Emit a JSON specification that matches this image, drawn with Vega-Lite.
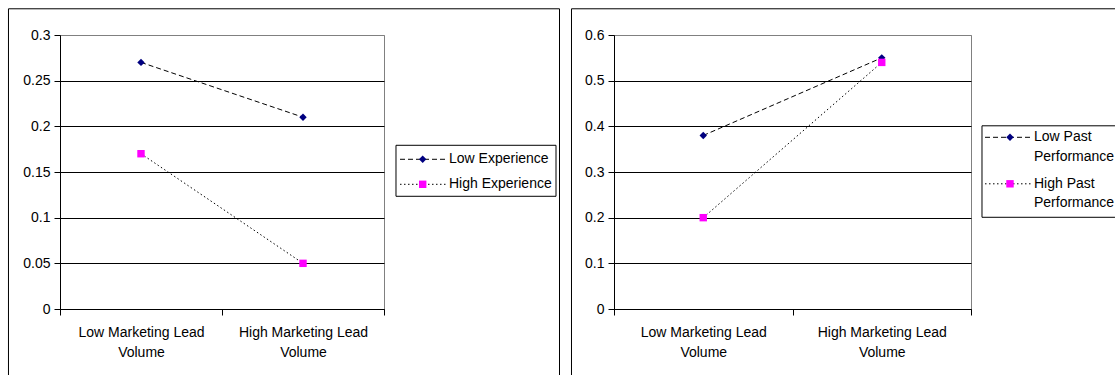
{
  "$schema": "https://vega.github.io/schema/vega-lite/v6.json",
  "background": "white",
  "padding": {"left": 7, "top": 7, "right": 0, "bottom": 0},
  "bounds": "flush",
  "spacing": 230,
  "config": {
    "view": {"stroke": "#808080", "strokeWidth": 1, "fill": "white"},
    "font": "Liberation Sans",
    "text": {"font": "Liberation Sans"},
    "axisX": {
      "title": null, "labelFontSize": 14, "labelFont": "Liberation Sans", "labelColor": "black",
      "labelExpr": "indexof(datum.label, 'Volume') >= 0 ? [replace(datum.label, ' Volume', ''), 'Volume'] : ''",
      "labelLineHeight": 20, "tickBand": "extent", "tickSize": 6, "tickColor": "black",
      "domainColor": "black", "labelPadding": 10, "grid": false, "labelAngle": 0
    },
    "axisY": {
      "title": null, "labelFontSize": 14, "labelFont": "Liberation Sans", "labelColor": "black",
      "format": "~g", "tickSize": 6, "labelPadding": 4, "tickColor": "black", "domainColor": "black",
      "grid": true, "gridWidth": 1
    }
  },
  "datasets": {
    "lines_left": [
      {"volume": "Low Marketing Lead Volume", "level": "Low", "series": "Low Experience", "value": 0.27},
      {"volume": "High Marketing Lead Volume", "level": "Low", "series": "Low Experience", "value": 0.21},
      {"volume": "Low Marketing Lead Volume", "level": "High", "series": "High Experience", "value": 0.17},
      {"volume": "High Marketing Lead Volume", "level": "High", "series": "High Experience", "value": 0.05}
    ],
    "lines_right": [
      {"volume": "Low Marketing Lead Volume", "level": "Low", "series": "Low Past Performance", "value": 0.38},
      {"volume": "High Marketing Lead Volume", "level": "Low", "series": "Low Past Performance", "value": 0.55},
      {"volume": "Low Marketing Lead Volume", "level": "High", "series": "High Past Performance", "value": 0.2},
      {"volume": "High Marketing Lead Volume", "level": "High", "series": "High Past Performance", "value": 0.54}
    ],
    "frame_left": [
      {"u": -0.159, "u2": -0.159, "v": 0.3287, "v2": -0.0726},
      {"u": -0.159, "u2": 1.5417, "v": 0.3287, "v2": 0.3287},
      {"u": 1.5417, "u2": 1.5417, "v": 0.3287, "v2": -0.0726},
      {"u": 1.037, "u2": 1.5309, "v": 0.17924, "v2": 0.17924},
      {"u": 1.037, "u2": 1.5309, "v": 0.1234, "v2": 0.1234},
      {"u": 1.037, "u2": 1.037, "v": 0.17924, "v2": 0.1234},
      {"u": 1.5309, "u2": 1.5309, "v": 0.17924, "v2": 0.1234}
    ],
    "frame_right": [
      {"u": -0.11905, "u2": -0.11905, "v": 0.65738, "v2": -0.14518},
      {"u": -0.11905, "u2": 1.40336, "v": 0.65738, "v2": 0.65738},
      {"u": 1.03081, "u2": 1.40336, "v": 0.40117, "v2": 0.40117},
      {"u": 1.03081, "u2": 1.40336, "v": 0.20081, "v2": 0.20081},
      {"u": 1.03081, "u2": 1.03081, "v": 0.40117, "v2": 0.20081}
    ],
    "key_left": [
      {"level": "Low", "u1": 1.0494, "u2": 1.1914, "um": 1.1194, "v": 0.16391},
      {"level": "High", "u1": 1.0494, "u2": 1.1914, "um": 1.1194, "v": 0.13653}
    ],
    "keytext_left": [
      {"ut": 1.2006, "v": 0.16391, "label": "Low Experience"},
      {"ut": 1.2006, "v": 0.13653, "label": "High Experience"}
    ],
    "key_right": [
      {"level": "Low", "u1": 1.03922, "u2": 1.16807, "um": 1.10924, "v": 0.37599},
      {"level": "High", "u1": 1.03922, "u2": 1.16807, "um": 1.10924, "v": 0.27416}
    ],
    "keytext_right": [
      {"ut": 1.17647, "v": 0.37599, "label": "Low Past"},
      {"ut": 1.17647, "v": 0.33219, "label": "Performance"},
      {"ut": 1.17647, "v": 0.27416, "label": "High Past"},
      {"ut": 1.17647, "v": 0.23146, "label": "Performance"}
    ]
  },
  "hconcat": [
    {
      "width": 324,
      "height": 274,
      "layer": [
        {
          "layer": [
            {
              "data": {"name": "lines_left"},
              "mark": {"type": "line", "strokeWidth": 1, "color": "black"},
              "encoding": {
                "x": {"field": "volume", "type": "nominal", "sort": ["Low Marketing Lead Volume", "High Marketing Lead Volume"], "scale": {"type": "band", "paddingInner": 0, "paddingOuter": 0}},
                "y": {"field": "value", "type": "quantitative", "scale": {"domain": [0, 0.3], "nice": false},
                      "axis": {"values": [0, 0.05, 0.1, 0.15, 0.2, 0.25, 0.3], "labelFontSize": 14, "gridColor": {"condition": {"test": "datum.value > 0.29", "value": "#808080"}, "value": "black"}}},
                "strokeDash": {"field": "level", "type": "nominal", "scale": {"domain": ["Low", "High"], "range": [[5, 3], [1.5, 2.5]]}, "legend": null}
              }
            },
            {
              "data": {"name": "lines_left"},
              "mark": {"type": "point", "filled": true, "opacity": 1, "size": 55},
              "encoding": {
                "x": {"field": "volume", "type": "nominal", "sort": ["Low Marketing Lead Volume", "High Marketing Lead Volume"], "scale": {"type": "band", "paddingInner": 0, "paddingOuter": 0}},
                "y": {"field": "value", "type": "quantitative", "scale": {"domain": [0, 0.3], "nice": false},
                      "axis": {"values": [0, 0.05, 0.1, 0.15, 0.2, 0.25, 0.3], "labelFontSize": 14, "gridColor": {"condition": {"test": "datum.value > 0.29", "value": "#808080"}, "value": "black"}}},
                "shape": {"field": "level", "type": "nominal", "scale": {"domain": ["Low", "High"], "range": ["diamond", "square"]}, "legend": null},
                "color": {"field": "level", "type": "nominal", "scale": {"domain": ["Low", "High"], "range": ["#000080", "#FF00FF"]}, "legend": null}
              }
            }
          ]
        },
        {
          "layer": [
            {
              "data": {"name": "frame_left"},
              "mark": {"type": "rule", "color": "black", "strokeWidth": 1},
              "encoding": {
                "x": {"field": "u", "type": "quantitative", "scale": {"domain": [0, 1], "nice": false, "zero": false}, "axis": null},
                "x2": {"field": "u2"},
                "y": {"field": "v", "type": "quantitative", "scale": {"domain": [0, 0.3], "nice": false}, "axis": null},
                "y2": {"field": "v2"}
              }
            },
            {
              "data": {"name": "key_left"},
              "mark": {"type": "rule", "color": "black", "strokeWidth": 1},
              "encoding": {
                "x": {"field": "u1", "type": "quantitative", "scale": {"domain": [0, 1], "nice": false, "zero": false}, "axis": null},
                "x2": {"field": "u2"},
                "y": {"field": "v", "type": "quantitative", "scale": {"domain": [0, 0.3], "nice": false}, "axis": null},
                "strokeDash": {"field": "level", "type": "nominal", "scale": {"domain": ["Low", "High"], "range": [[5, 3], [1.5, 2.5]]}, "legend": null}
              }
            },
            {
              "data": {"name": "key_left"},
              "mark": {"type": "point", "filled": true, "opacity": 1, "size": 55},
              "encoding": {
                "x": {"field": "um", "type": "quantitative", "scale": {"domain": [0, 1], "nice": false, "zero": false}, "axis": null},
                "y": {"field": "v", "type": "quantitative", "scale": {"domain": [0, 0.3], "nice": false}, "axis": null},
                "shape": {"field": "level", "type": "nominal", "scale": {"domain": ["Low", "High"], "range": ["diamond", "square"]}, "legend": null},
                "color": {"field": "level", "type": "nominal", "scale": {"domain": ["Low", "High"], "range": ["#000080", "#FF00FF"]}, "legend": null}
              }
            },
            {
              "data": {"name": "keytext_left"},
              "mark": {"type": "text", "align": "left", "baseline": "middle", "fontSize": 14, "color": "black"},
              "encoding": {
                "x": {"field": "ut", "type": "quantitative", "scale": {"domain": [0, 1], "nice": false, "zero": false}, "axis": null},
                "y": {"field": "v", "type": "quantitative", "scale": {"domain": [0, 0.3], "nice": false}, "axis": null},
                "text": {"field": "label"}
              }
            }
          ]
        }
      ],
      "resolve": {"scale": {"x": "independent", "y": "independent"}}
    },
    {
      "width": 357,
      "height": 274,
      "layer": [
        {
          "layer": [
            {
              "data": {"name": "lines_right"},
              "mark": {"type": "line", "strokeWidth": 1, "color": "black"},
              "encoding": {
                "x": {"field": "volume", "type": "nominal", "sort": ["Low Marketing Lead Volume", "High Marketing Lead Volume"], "scale": {"type": "band", "paddingInner": 0, "paddingOuter": 0}},
                "y": {"field": "value", "type": "quantitative", "scale": {"domain": [0, 0.6], "nice": false},
                      "axis": {"values": [0, 0.1, 0.2, 0.3, 0.4, 0.5, 0.6], "labelFontSize": 14, "gridColor": {"condition": {"test": "datum.value > 0.59", "value": "#808080"}, "value": "black"}}},
                "strokeDash": {"field": "level", "type": "nominal", "scale": {"domain": ["Low", "High"], "range": [[5, 3], [1.5, 2.5]]}, "legend": null}
              }
            },
            {
              "data": {"name": "lines_right"},
              "mark": {"type": "point", "filled": true, "opacity": 1, "size": 55},
              "encoding": {
                "x": {"field": "volume", "type": "nominal", "sort": ["Low Marketing Lead Volume", "High Marketing Lead Volume"], "scale": {"type": "band", "paddingInner": 0, "paddingOuter": 0}},
                "y": {"field": "value", "type": "quantitative", "scale": {"domain": [0, 0.6], "nice": false},
                      "axis": {"values": [0, 0.1, 0.2, 0.3, 0.4, 0.5, 0.6], "labelFontSize": 14, "gridColor": {"condition": {"test": "datum.value > 0.59", "value": "#808080"}, "value": "black"}}},
                "shape": {"field": "level", "type": "nominal", "scale": {"domain": ["Low", "High"], "range": ["diamond", "square"]}, "legend": null},
                "color": {"field": "level", "type": "nominal", "scale": {"domain": ["Low", "High"], "range": ["#000080", "#FF00FF"]}, "legend": null}
              }
            }
          ]
        },
        {
          "layer": [
            {
              "data": {"name": "frame_right"},
              "mark": {"type": "rule", "color": "black", "strokeWidth": 1},
              "encoding": {
                "x": {"field": "u", "type": "quantitative", "scale": {"domain": [0, 1], "nice": false, "zero": false}, "axis": null},
                "x2": {"field": "u2"},
                "y": {"field": "v", "type": "quantitative", "scale": {"domain": [0, 0.6], "nice": false}, "axis": null},
                "y2": {"field": "v2"}
              }
            },
            {
              "data": {"name": "key_right"},
              "mark": {"type": "rule", "color": "black", "strokeWidth": 1},
              "encoding": {
                "x": {"field": "u1", "type": "quantitative", "scale": {"domain": [0, 1], "nice": false, "zero": false}, "axis": null},
                "x2": {"field": "u2"},
                "y": {"field": "v", "type": "quantitative", "scale": {"domain": [0, 0.6], "nice": false}, "axis": null},
                "strokeDash": {"field": "level", "type": "nominal", "scale": {"domain": ["Low", "High"], "range": [[5, 3], [1.5, 2.5]]}, "legend": null}
              }
            },
            {
              "data": {"name": "key_right"},
              "mark": {"type": "point", "filled": true, "opacity": 1, "size": 55},
              "encoding": {
                "x": {"field": "um", "type": "quantitative", "scale": {"domain": [0, 1], "nice": false, "zero": false}, "axis": null},
                "y": {"field": "v", "type": "quantitative", "scale": {"domain": [0, 0.6], "nice": false}, "axis": null},
                "shape": {"field": "level", "type": "nominal", "scale": {"domain": ["Low", "High"], "range": ["diamond", "square"]}, "legend": null},
                "color": {"field": "level", "type": "nominal", "scale": {"domain": ["Low", "High"], "range": ["#000080", "#FF00FF"]}, "legend": null}
              }
            },
            {
              "data": {"name": "keytext_right"},
              "mark": {"type": "text", "align": "left", "baseline": "middle", "fontSize": 14, "color": "black"},
              "encoding": {
                "x": {"field": "ut", "type": "quantitative", "scale": {"domain": [0, 1], "nice": false, "zero": false}, "axis": null},
                "y": {"field": "v", "type": "quantitative", "scale": {"domain": [0, 0.6], "nice": false}, "axis": null},
                "text": {"field": "label"}
              }
            }
          ]
        }
      ],
      "resolve": {"scale": {"x": "independent", "y": "independent"}}
    }
  ]
}
